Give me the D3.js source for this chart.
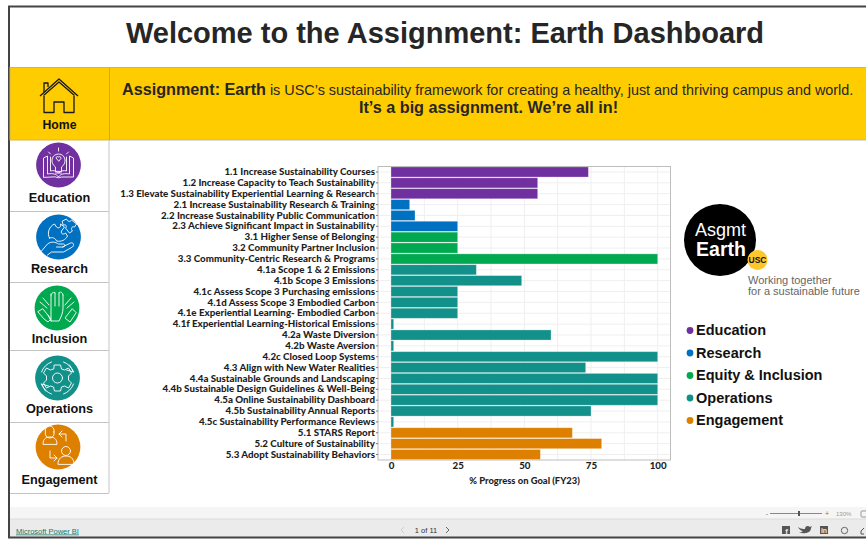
<!DOCTYPE html>
<html>
<head>
<meta charset="utf-8">
<script src="https://cdn.jsdelivr.net/npm/d3@7"></script>
<style>
html, body { margin: 0; padding: 0; background: #fff; overflow: hidden; }
text { font-family: "Liberation Sans", Arial, sans-serif; }
.axisLabel { font-family: Lato, sans-serif; font-weight: 900; font-size: 9.75px; fill: #1f1f1f; }
.icon { fill: none; stroke: #fff; stroke-width: 0.9; stroke-linejoin: round; stroke-linecap: round; }
</style>
</head>
<body>
<div id="chart"></div>
<script>
var w = 866, h = 540

var goals = [
	"1.1 Increase Sustainability Courses",
	"1.2 Increase Capacity to Teach Sustainability",
	"1.3 Elevate Sustainability Experiential Learning & Research",
	"2.1 Increase Sustainability Research & Training",
	"2.2 Increase Sustainability Public Communication",
	"2.3 Achieve Significant Impact in Sustainability",
	"3.1 Higher Sense of Belonging",
	"3.2 Community Partner Inclusion",
	"3.3 Community-Centric Research & Programs",
	"4.1a Scope 1 & 2 Emissions",
	"4.1b Scope 3 Emissions",
	"4.1c Assess Scope 3 Purchasing emissions",
	"4.1d Assess Scope 3 Embodied Carbon",
	"4.1e Experiential Learning- Embodied Carbon",
	"4.1f Experiential Learning-Historical Emissions",
	"4.2a Waste Diversion",
	"4.2b Waste Aversion",
	"4.2c Closed Loop Systems",
	"4.3 Align with New Water Realities",
	"4.4a Sustainable Grounds and Landscaping",
	"4.4b Sustainable Design Guidelines & Well-Being",
	"4.5a Online Sustainability Dashboard",
	"4.5b Sustainability Annual Reports",
	"4.5c Sustainability Performance Reviews",
	"5.1 STARS Report",
	"5.2 Culture of Sustainability",
	"5.3 Adopt Sustainability Behaviors"
]
var progress = [74, 55, 55, 7, 9, 25, 25, 25, 100, 32, 49, 25, 25, 25, 1, 60, 1, 100, 73, 100, 100, 100, 75, 1, 68, 79, 56]
var xTicks = [0, 25, 50, 75, 100]
var xGrid = [0, 12.5, 25, 37.5, 50, 62.5, 75, 87.5, 100]
var themes = ["Education", "Research", "Equity & Inclusion", "Operations", "Engagement"]
var themeColours = ["#7030a0", "#0070c0", "#00a94f", "#12918a", "#dd8000"]
var navItems = ["Education", "Research", "Inclusion", "Operations", "Engagement"]

var colour = d3.scaleOrdinal().domain(["1", "2", "3", "4", "5"]).range(themeColours)

var svg = d3.select("#chart").append("svg")
	.attr("width", w)
	.attr("height", h)
	.style("display", "block")

// page frame and bands
svg.append("rect").attr("x", 10).attr("y", 507).attr("width", w).attr("height", 12).attr("fill", "#f5f5f5")
svg.append("rect").attr("x", 10).attr("y", 519).attr("width", w).attr("height", 18).attr("fill", "#ebebeb")
svg.append("line").attr("x1", 10).attr("x2", w).attr("y1", 519).attr("y2", 519).attr("stroke", "#dcdcdc")
svg.append("path").attr("d", "M" + w + ",6.5H9V537.5H" + w).attr("fill", "none").attr("stroke", "#444").attr("stroke-width", 2)

svg.append("text").attr("x", 445).attr("y", 43).attr("text-anchor", "middle")
	.attr("font-size", 29).attr("font-weight", "bold").attr("fill", "#262626")
	.text("Welcome to the Assignment: Earth Dashboard")

// yellow header
svg.append("rect").attr("x", 10).attr("y", 67.5).attr("width", w).attr("height", 72.5)
	.attr("fill", "#ffcc00").attr("stroke", "#d6b84a").attr("stroke-width", 1)
svg.append("line").attr("x1", 109.5).attr("x2", 109.5).attr("y1", 68).attr("y2", 140).attr("stroke", "#d6ac00")
svg.append("line").attr("x1", 110).attr("x2", w).attr("y1", 140.5).attr("y2", 140.5).attr("stroke", "#ddd")

var intro = svg.append("text").attr("x", 122).attr("y", 95).attr("fill", "#262626").attr("font-size", 14.4)
intro.append("tspan").attr("font-weight", "bold").attr("font-size", 16.2).text("Assignment: Earth")
intro.append("tspan").text(" is USC\u2019s sustainability framework for creating a healthy, just and thriving campus and world.")
svg.append("text").attr("x", 488.5).attr("y", 113).attr("text-anchor", "middle")
	.attr("font-size", 16.2).attr("font-weight", "bold").attr("fill", "#262626")
	.text("It\u2019s a big assignment. We\u2019re all in!")

// home button
var home = svg.append("g").attr("transform", "translate(59,103)")
	.attr("fill", "none").attr("stroke", "#1a1a1a").attr("stroke-width", 1.3).attr("stroke-linejoin", "round")
home.append("path").attr("d", "M-19,-7L0,-24L19,-7M-15.5,-7.5L0,-21L15.5,-7.5")
home.append("path").attr("d", "M-15,-10.5V-20H-11V-16")
home.append("path").attr("d", "M-15,-7V9.5H-5V-1H5V9.5H15V-7")
svg.append("text").attr("x", 59.5).attr("y", 129).attr("text-anchor", "middle")
	.attr("font-size", 12.2).attr("font-weight", "bold").attr("fill", "#111").text("Home")

// nav buttons
var navY = d3.scaleOrdinal().domain(navItems).range([165, 237, 308, 378, 447])
var navBottom = d3.scaleOrdinal().domain(navItems).range([211, 282, 350, 422, 493])
var navText = d3.scaleOrdinal().domain(navItems).range([202, 273, 343, 413, 484])
var navX = d3.scaleOrdinal().domain(navItems).range([58.5, 58.5, 57, 57.5, 58])

var nav = svg.selectAll(".nav").data(navItems).enter().append("g").attr("class", "nav")
nav.append("line").attr("x1", 10).attr("x2", 109)
	.attr("y1", function(d) {return navBottom(d) + 0.5})
	.attr("y2", function(d) {return navBottom(d) + 0.5})
	.attr("stroke", "#c4c4c4").attr("stroke-width", 1.2)
nav.append("circle")
	.attr("cx", function(d) {return navX(d)})
	.attr("cy", function(d) {return navY(d)})
	.attr("r", 22.4)
	.attr("fill", function(d, i) {return themeColours[i]})
nav.append("text")
	.attr("x", 59.5)
	.attr("y", function(d) {return navText(d)})
	.attr("text-anchor", "middle")
	.attr("font-size", 12.7).attr("font-weight", "bold").attr("fill", "#111")
	.text(function(d) {return d})
svg.append("line").attr("x1", 109).attr("x2", 109).attr("y1", 140).attr("y2", 493).attr("stroke", "#cfcfcf").attr("stroke-width", 1.2)

// icons, one per button
var icons = [
	// book with bulb
	["M-15,12V-7L-11,-9V9C-6,8 -2,9 0,12C2,9 6,8 11,9V-9L15,-7V12H3C1,13 -1,13 -3,12Z",
	 "M-8,-8V6C-5,5 -2,6 0,8C2,6 5,5 8,6V-8",
	 "M-3,6V2C-9,-2 -7,-11 0,-11C7,-11 9,-2 3,2V6Z M-3,8H3",
	 "M0,-4L-2.5,-7A1.5,1.5 0 0 1 0,-8A1.5,1.5 0 0 1 2.5,-7Z",
	 "M-10,-13L-8,-11M0,-17V-14M10,-13L8,-11"],
	// hand holding a puzzle
	["M-17,14L-11,7C-7,4 -3,5 0,7H5C7,7 7,10 4,10H-2M4,10L12,6C15,5 16,8 14,10L5,15H-7L-11,18",
	 "M-9,1C-12,-4 -9,-11 -4,-13L-2,-10C0,-8 3,-10 2,-13L6,-10L3,-6C2,-3 5,-2 7,-4L9,-1C7,3 3,5 -2,4C-3,1 -6,0 -9,1Z",
	 "M4,-16L8,-18C9,-15 12,-15 13,-17L18,-13L16,-10C13,-11 12,-8 14,-6L11,-4L7,-9C9,-11 7,-13 5,-12Z"],
	// raised hands
	["M-6,13V-5V-14M-2,-15V-2M2,-15V-2M6,-13V0C6,5 4,9 2,13H-6L-9,7",
	 "M-6,-13C-6,-15 -2,-17 -2,-15M2,-15C2,-17 6,-16 6,-13",
	 "M-8,-3L-14,-10M-10,0L-17,-6",
	 "M8,-3L14,-10M10,0L17,-6",
	 "M-19,4L-13,11L-9,14L-6,11L-14,1Z",
	 "M19,5L13,14L8,10L15,1Z"],
	// gear in arrows
	["M-3,-13H3L4,-9L7,-8L11,-10L14,-5L11,-2V2L14,5L11,10L7,8L4,9L3,13H-3L-4,9L-7,8L-11,10L-14,5L-11,2V-2L-14,-5L-11,-10L-7,-8L-4,-9Z",
	 "M5,0A5,5 0 1 0 -5,0A5,5 0 1 0 5,0Z",
	 "M-16,-6A17,17 0 0 1 -6,-16M6,-16A17,17 0 0 1 16,-6M16,6A17,17 0 0 1 6,16M-6,16A17,17 0 0 1 -16,6",
	 "M12,-13L16,-6L9,-8M-12,13L-16,6L-9,8"],
	// two people and arrows
	["M-15,-3C-15,-9 -11,-10 -8,-10C-5,-10 -1,-9 -1,-3Z M-4,-15A4.5,4.5 0 1 0 -12.5,-15A4.5,4.5 0 1 0 -4,-15Z",
	 "M0,17C0,11 4,9 8,9C12,9 16,11 16,17Z M12.5,4A4.5,4.5 0 1 0 3.5,4A4.5,4.5 0 1 0 12.5,4Z",
	 "M8,-6V-13H1M4,-16L1,-13L4,-10",
	 "M-8,4V11H-1M-4,8L-1,11L-4,14"]
]
nav.each(function(d, i) {
	d3.select(this).selectAll(".icon").data(icons[i]).enter().append("path")
		.attr("class", "icon")
		.attr("transform", "translate(" + navX(d) + "," + navY(d) + ")")
		.attr("d", function(p) {return p})
})

// bar chart
var plot = {l: 378, r: 670.5, t: 166.5, b: 460}

var x = d3.scaleLinear().domain([0, 100]).range([391, 657.7])
var y = d3.scaleBand().domain(goals).range([plot.t, plot.b]).paddingInner(0.07).paddingOuter(0.04)

svg.append("g").selectAll("line").data(xGrid).enter().append("line")
	.attr("x1", function(d) {return x(d)})
	.attr("x2", function(d) {return x(d)})
	.attr("y1", plot.t).attr("y2", plot.b)
	.attr("stroke", "#efefef")
svg.append("g").selectAll("line").data(goals).enter().append("line")
	.attr("x1", plot.l).attr("x2", plot.r)
	.attr("y1", function(d) {return y(d) + y.bandwidth() / 2})
	.attr("y2", function(d) {return y(d) + y.bandwidth() / 2})
	.attr("stroke", "#efefef")

svg.append("g").selectAll("rect").data(goals).enter().append("rect")
	.attr("x", x(0))
	.attr("y", function(d) {return y(d)})
	.attr("width", function(d, i) {return x(progress[i]) - x(0)})
	.attr("height", y.bandwidth())
	.attr("fill", function(d) {return colour(d[0])})
	.attr("stroke", "#fff").attr("stroke-opacity", 0.35).attr("stroke-width", 0.8)

svg.append("rect").attr("x", plot.l).attr("y", plot.t)
	.attr("width", plot.r - plot.l).attr("height", plot.b - plot.t)
	.attr("fill", "none").attr("stroke", "#bdbdbd").attr("stroke-width", 1)

var yAxis = svg.append("g").attr("transform", "translate(" + plot.l + ",0)")
	.call(d3.axisLeft(y).tickSize(2).tickPadding(1))
yAxis.select(".domain").remove()
yAxis.selectAll("text").attr("class", "axisLabel")
yAxis.selectAll("line").attr("stroke", "#777")

var xAxis = svg.append("g").attr("transform", "translate(0," + plot.b + ")")
	.call(d3.axisBottom(x).tickValues(xTicks).tickSize(0).tickPadding(2).tickFormat(d3.format("d")))
xAxis.select(".domain").remove()
xAxis.selectAll("text").attr("class", "axisLabel")

svg.append("text").attr("class", "axisLabel").attr("x", 524.5).attr("y", 484).attr("text-anchor", "middle")
	.style("font-size", "9.4px").text("% Progress on Goal (FY23)")

// logo
svg.append("circle").attr("cx", 720).attr("cy", 240).attr("r", 36).attr("fill", "#000")
svg.append("text").attr("x", 720.5).attr("y", 236).attr("text-anchor", "middle").attr("fill", "#fff")
	.attr("font-family", "Lato, sans-serif").attr("font-weight", 300).attr("font-size", 18).text("Asgmt")
svg.append("text").attr("x", 721).attr("y", 256).attr("text-anchor", "middle").attr("fill", "#fff")
	.attr("font-family", "Lato, sans-serif").attr("font-weight", 900).attr("font-size", 19.5).text("Earth")
svg.append("circle").attr("cx", 757.5).attr("cy", 260).attr("r", 10).attr("fill", "#ffc72c")
svg.append("text").attr("x", 757.5).attr("y", 263).attr("text-anchor", "middle").attr("fill", "#111")
	.attr("font-weight", "bold").attr("font-size", 8.5).text("USC")
svg.selectAll(".tag").data(["Working together", "for a sustainable future"]).enter().append("text")
	.attr("class", "tag")
	.attr("x", 748)
	.attr("y", function(d, i) {return 284 + i * 11})
	.attr("fill", "#666").attr("font-family", "Lato, sans-serif").attr("font-size", 11)
	.text(function(d) {return d})

// legend
var legendY = d3.scalePoint().domain(themes).range([330.5, 420.5])
var legend = svg.selectAll(".legend").data(themes).enter().append("g").attr("class", "legend")
legend.append("circle")
	.attr("cx", 690)
	.attr("cy", function(d) {return legendY(d)})
	.attr("r", 3.4)
	.attr("fill", function(d, i) {return themeColours[i]})
legend.append("text")
	.attr("x", 696)
	.attr("y", function(d) {return legendY(d) + 4.5})
	.attr("font-size", 14.5).attr("font-weight", "bold").attr("fill", "#111")
	.text(function(d) {return d})

// power bi footer
svg.append("text").attr("x", 16).attr("y", 533.5).attr("font-size", 7.5).attr("fill", "#0f7b6c")
	.attr("text-decoration", "underline").text("Microsoft Power BI")
svg.append("text").attr("x", 426).attr("y", 533).attr("text-anchor", "middle").attr("font-size", 7.5).attr("fill", "#333").text("1 of 11")
svg.append("path").attr("d", "M404,527L401,530L404,533").attr("fill", "none").attr("stroke", "#ccc")
svg.append("path").attr("d", "M446,527L449,530L446,533").attr("fill", "none").attr("stroke", "#666")

// zoom slider
svg.append("line").attr("x1", 770).attr("x2", 822).attr("y1", 513.5).attr("y2", 513.5).attr("stroke", "#888")
svg.append("rect").attr("x", 798).attr("y", 511).attr("width", 2).attr("height", 5).attr("fill", "#555")
svg.append("text").attr("x", 767).attr("y", 516).attr("text-anchor", "middle").attr("font-size", 7).attr("fill", "#777").text("-")
svg.append("text").attr("x", 827).attr("y", 516).attr("text-anchor", "middle").attr("font-size", 7).attr("fill", "#777").text("+")
svg.append("text").attr("x", 836).attr("y", 516).attr("font-size", 6).attr("fill", "#999").text("130%")
svg.append("rect").attr("x", 861).attr("y", 511).attr("width", 6).attr("height", 6).attr("rx", 1).attr("fill", "none").attr("stroke", "#999")

// share icons
svg.append("rect").attr("x", 782).attr("y", 526).attr("width", 8).attr("height", 8).attr("fill", "#555")
svg.append("text").attr("x", 786.5).attr("y", 533.5).attr("text-anchor", "middle").attr("font-size", 8).attr("font-weight", "bold").attr("fill", "#ebebeb").text("f")
svg.append("path").attr("d", "M798,527C801,529 803,529 805,529C805,526 808,525 810,527L812,526L811,528C811,532 806,535 799,532C801,532 802,532 803,531C801,531 799,529 798,527Z").attr("fill", "#555")
svg.append("rect").attr("x", 820).attr("y", 526).attr("width", 8).attr("height", 8).attr("fill", "#555")
svg.append("text").attr("x", 824).attr("y", 533).attr("text-anchor", "middle").attr("font-size", 7).attr("font-weight", "bold").attr("fill", "#ebebeb").text("in")
svg.append("circle").attr("cx", 844.5).attr("cy", 530.5).attr("r", 3.2).attr("fill", "none").attr("stroke", "#666")
svg.append("path").attr("d", "M864,528L861,531M861,534V531M861,534H864").attr("fill", "none").attr("stroke", "#555")
</script>
</body>
</html>
